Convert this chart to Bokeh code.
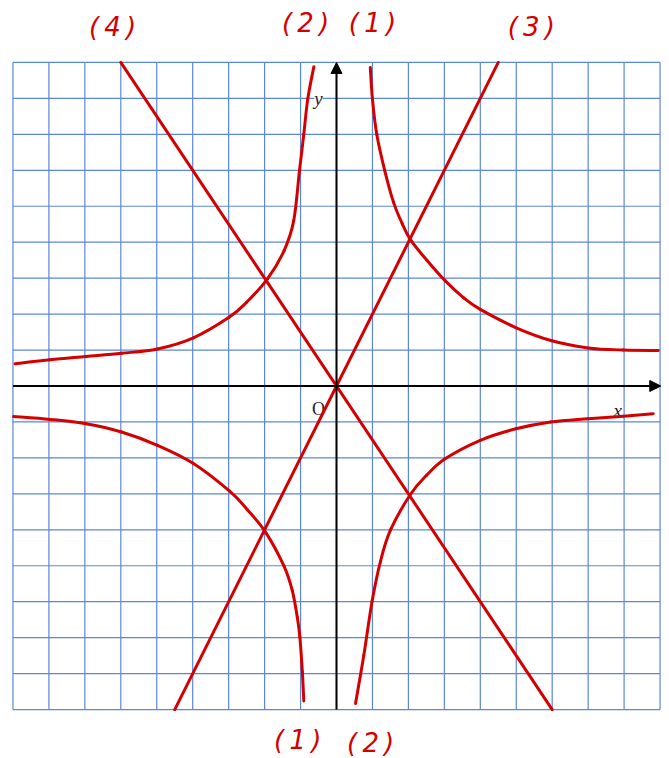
from bokeh.plotting import figure
from bokeh.models import Range1d, Arrow, NormalHead
from bokeh.core.properties import value
from bokeh.embed import file_html
from bokeh.resources import INLINE

# ---- data (grid units) ----
grid_ticks = list(range(-9, 10))
grid_min, grid_max = -9, 9

# curve (1): branch in quadrant I
c1_up_x = [0.94, 1.0, 1.12, 1.34, 1.59, 1.83, 2.07, 2.52, 3.02, 3.54, 4.0, 5.0, 5.99, 7.0, 7.98, 8.95]
c1_up_y = [8.86, 7.98, 7.0, 6.0, 5.1, 4.51, 4.05, 3.49, 2.93, 2.45, 2.13, 1.62, 1.26, 1.06, 1.0, 0.99]
# curve (1): branch in quadrant III
c1_lo_x = [-8.98, -7.96, -6.97, -5.98, -4.98, -3.99, -2.98, -2.48, -1.97, -1.46, -1.23, -1.09, -1.02, -0.95, -0.91]
c1_lo_y = [-0.85, -0.93, -1.05, -1.28, -1.65, -2.15, -2.92, -3.44, -4.07, -5.01, -5.69, -6.43, -6.98, -7.95, -8.76]
# curve (2): branch in quadrant II
c2_up_x = [-8.94, -7.96, -6.97, -5.98, -4.98, -3.98, -2.99, -2.5, -1.92, -1.46, -1.19, -1.03, -0.91, -0.8, -0.63]
c2_up_y = [0.62, 0.73, 0.82, 0.91, 1.03, 1.34, 1.91, 2.33, 2.98, 3.76, 4.6, 5.99, 7.0, 7.98, 8.88]
# curve (2): branch in quadrant IV
c2_lo_x = [0.53, 0.76, 0.99, 1.22, 1.5, 2.06, 2.5, 3.03, 4.0, 4.99, 5.96, 7.0, 7.98, 8.81]
c2_lo_y = [-8.83, -7.49, -5.99, -4.89, -4.01, -3.01, -2.49, -2.02, -1.51, -1.19, -1.0, -0.91, -0.84, -0.77]
# line (3) and line (4)
l3_x = [-4.5, 4.5]
l3_y = [-9, 9]
l4_x = [-6, 6]
l4_y = [9, -9]

# curve labels
lab_text = ["(\u20094\u2009)", "(\u20092\u2009)", "(\u20091\u2009)", "(\u20093\u2009)",
            "(\u20091\u2009)", "(\u20092\u2009)"]
lab_x = [-6.23, -0.86, 1.0, 5.42, -1.08, 0.95]
lab_y = [10.0, 10.1, 10.1, 10.0, -9.86, -9.92]

# axis names
ax_text = ["y", "x"]
ax_x = [-0.5, 7.82]
ax_y = [8.0, -0.68]
origin_text = ["O"]
origin_x = [-0.5]
origin_y = [-0.63]

RED = "#d40000"
GRID = "#5b87da"
U = 35.95  # pixels per unit
OX, OY = 336, 385.5  # canvas position of the origin
W, H = 669, 758

p = figure(width=W, height=H,
           x_range=Range1d(-OX / U, (W - OX) / U),
           y_range=Range1d(-(H - OY) / U, OY / U),
           output_backend="svg", toolbar_location=None,
           x_axis_location=None, y_axis_location=None,
           min_border=0, title=None)
p.grid.visible = False
p.outline_line_color = None
p.background_fill_color = "white"
p.border_fill_color = "white"

n = len(grid_ticks)
p.segment(x0=grid_ticks, y0=[grid_min] * n, x1=grid_ticks, y1=[grid_max] * n,
          line_color=GRID, line_width=1.2)
p.segment(x0=[grid_min] * n, y0=grid_ticks, x1=[grid_max] * n, y1=grid_ticks,
          line_color=GRID, line_width=1.2)

p.text(x=ax_x, y=ax_y, text=ax_text, text_font=value("Liberation Serif"),
       text_font_style="italic", text_font_size="19px", text_color="#222222",
       text_align="center", text_baseline="middle",
       background_fill_color="white")
p.text(x=origin_x, y=origin_y, text=origin_text, text_font=value("Liberation Serif"),
       text_font_size="18px", text_color="#222222",
       text_align="center", text_baseline="middle",
       background_fill_color="white")


def smooth(xs, ys):
    """Catmull-Rom rendering of the read points as Bezier pieces."""
    px = [xs[0]] + list(xs) + [xs[-1]]
    py = [ys[0]] + list(ys) + [ys[-1]]
    d = dict(x0=[], y0=[], x1=[], y1=[], cx0=[], cy0=[], cx1=[], cy1=[])
    for i in range(1, len(px) - 2):
        d["x0"].append(px[i]); d["y0"].append(py[i])
        d["x1"].append(px[i + 1]); d["y1"].append(py[i + 1])
        d["cx0"].append(px[i] + (px[i + 1] - px[i - 1]) / 6)
        d["cy0"].append(py[i] + (py[i + 1] - py[i - 1]) / 6)
        d["cx1"].append(px[i + 1] - (px[i + 2] - px[i]) / 6)
        d["cy1"].append(py[i + 1] - (py[i + 2] - py[i]) / 6)
    return d


for xs, ys in [(c1_up_x, c1_up_y), (c1_lo_x, c1_lo_y), (c2_up_x, c2_up_y), (c2_lo_x, c2_lo_y)]:
    p.bezier(source=smooth(xs, ys), x0="x0", y0="y0", x1="x1", y1="y1",
             cx0="cx0", cy0="cy0", cx1="cx1", cy1="cy1",
             line_color=RED, line_width=3, line_cap="round")

for xs, ys in [(l3_x, l3_y), (l4_x, l4_y)]:
    p.line(xs, ys, line_color=RED, line_width=3, line_cap="round")

p.add_layout(Arrow(end=NormalHead(size=11, fill_color="black", line_color="black", line_width=1),
                   x_start=grid_min, y_start=0, x_end=grid_max + 0.02, y_end=0,
                   line_color="black", line_width=2))
p.add_layout(Arrow(end=NormalHead(size=11, fill_color="black", line_color="black", line_width=1),
                   x_start=0, y_start=grid_min, x_end=0, y_end=grid_max,
                   line_color="black", line_width=2))

p.text(x=lab_x, y=lab_y, text=lab_text, text_font=value("DejaVu Sans"),
       text_font_style="italic", text_font_size="26px", text_color=RED,
       text_align="center", text_baseline="middle")

open("out.html", "w").write(file_html(p, INLINE))
